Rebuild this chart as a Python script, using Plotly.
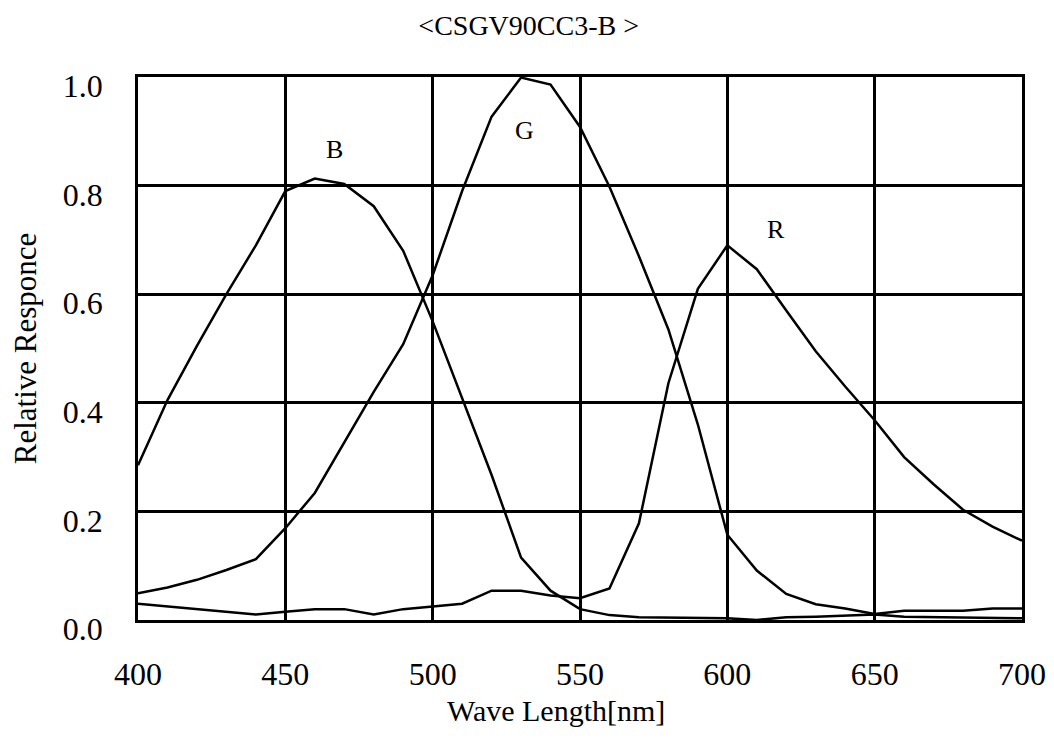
import plotly.graph_objects as go

wavelength = [400, 410, 420, 430, 440, 450, 460, 470, 480, 490, 500, 510, 520, 530, 540, 550,
              560, 570, 580, 590, 600, 610, 620, 630, 640, 650, 660, 670, 680, 690, 700]

blue = [0.285, 0.405, 0.505, 0.60, 0.69, 0.79, 0.813, 0.803, 0.762, 0.68, 0.55, 0.41, 0.267, 0.115, 0.054, 0.02,
        0.009, 0.005, 0.004, 0.004, 0.003, 0.0, 0.005, 0.006, 0.008, 0.01, 0.006, 0.005, 0.004, 0.004, 0.003]

green = [0.049, 0.06, 0.074, 0.092, 0.112, 0.169, 0.234, 0.328, 0.42, 0.508, 0.635, 0.79, 0.927, 0.999, 0.986, 0.908,
         0.798, 0.67, 0.535, 0.36, 0.157, 0.091, 0.048, 0.029, 0.021, 0.011, 0.017, 0.017, 0.017, 0.021, 0.021]

red = [0.03, 0.025, 0.02, 0.015, 0.01, 0.015, 0.02, 0.02, 0.01, 0.02, 0.025, 0.03, 0.054, 0.054, 0.045, 0.04,
       0.058, 0.178, 0.436, 0.61, 0.69, 0.646, 0.57, 0.495, 0.43, 0.368, 0.30, 0.25, 0.203, 0.172, 0.146]

labels = ["B", "G", "R"]
label_x = [466.8, 531.3, 616.5]
label_y = [0.866, 0.902, 0.72]

x_ticks = [400, 450, 500, 550, 600, 650, 700]
y_ticks = [0.0, 0.2, 0.4, 0.6, 0.8, 1.0]
y_tick_text = ["0.0", "0.2", "0.4", "0.6", "0.8", "1.0"]

FONT = "Liberation Serif, Times New Roman, serif"

fig = go.Figure()
for name, vals in zip(labels, [blue, green, red]):
    fig.add_trace(go.Scatter(x=wavelength, y=vals, mode="lines", name=name,
                             line=dict(color="black", width=2.5), showlegend=False))

for t, lx, ly in zip(labels, label_x, label_y):
    fig.add_annotation(x=lx, y=ly, text=t, showarrow=False,
                       font=dict(family=FONT, size=26, color="black"))

# x-axis title (placed slightly left of plot centre, as in the original)
fig.add_annotation(xref="paper", yref="paper", x=0.473, y=-0.166, xanchor="center", yanchor="middle",
                   text="Wave Length[nm]", showarrow=False,
                   font=dict(family=FONT, size=30, color="black"))

fig.update_layout(
    width=1054, height=753,
    margin=dict(l=130, r=40, t=69, b=141, autoexpand=False),
    paper_bgcolor="white", plot_bgcolor="white",
    font=dict(family=FONT, color="black"),
    title=dict(text="&lt;CSGV90CC3-B &gt;", x=0.494, xanchor="center", y=0.977, yanchor="middle",
               font=dict(family=FONT, size=28, color="black")),
)

fig.update_xaxes(
    range=[400, 700], tickvals=x_ticks, ticktext=[str(v) for v in x_ticks],
    showgrid=True, gridcolor="black", gridwidth=2.6,
    showline=True, linecolor="black", linewidth=2.6, mirror=True,
    zeroline=False, ticks="", ticklabelstandoff=24, automargin=False,
    tickfont=dict(family=FONT, size=32, color="black"),
)
fig.update_yaxes(
    range=[0, 1.0], tickvals=y_ticks, ticktext=y_tick_text,
    showgrid=True, gridcolor="black", gridwidth=2.6,
    showline=True, linecolor="black", linewidth=2.6, mirror=True,
    zeroline=False, ticks="", ticklabelstandoff=26, ticklabelshift=9, automargin=False,
    tickfont=dict(family=FONT, size=32, color="black"),
    title=dict(text="Relative Responce", font=dict(family=FONT, size=31, color="black"), standoff=19),
)

fig.write_html("out.html")
